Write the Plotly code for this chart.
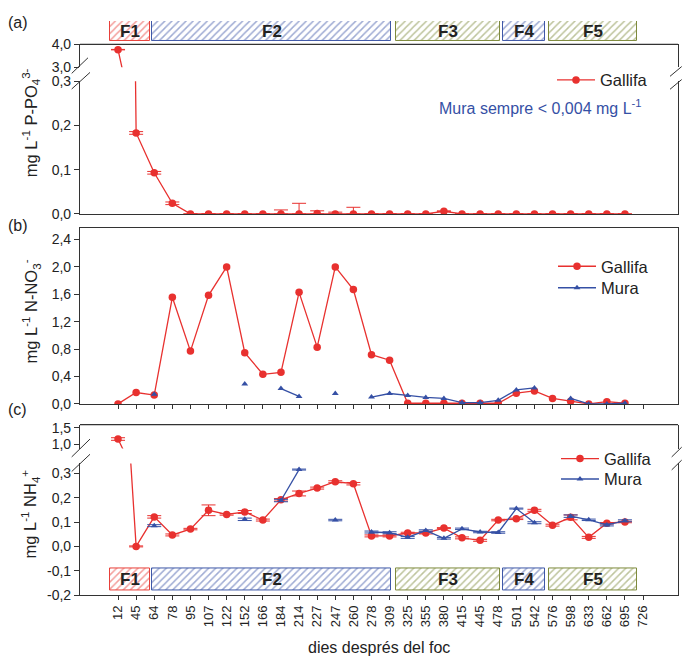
import plotly.graph_objects as go

# ---- data -------------------------------------------------------------
days = [12, 45, 64, 78, 95, 107, 122, 152, 166, 184, 214, 227, 247, 260, 278,
        309, 325, 355, 380, 415, 445, 478, 501, 542, 576, 598, 633, 662, 695, 726]
day_labels = [str(d) for d in days]

# (a) P-PO4 (mg/L), Gallifa
po4_gallifa = [3.77, 0.183, 0.093, 0.024, 0, 0, 0, 0, 0, 0, 0, 0.001, 0, 0, 0,
               0, 0, 0, 0.006, 0, 0, 0, 0, 0, 0, 0, 0, 0, 0, None]
po4_gallifa_err_up = [0.01, 0.003, 0.003, 0.003, 0, 0, 0, 0, 0, 0.009, 0.024, 0.006,
                      0.004, 0.015, 0, 0, 0, 0, 0.001, 0, 0, 0, 0, 0, 0, 0, 0, 0, 0, None]
po4_gallifa_err_dn = [0.01, 0.003, 0.003, 0.003, 0, 0, 0, 0, 0, 0, 0, 0.001,
                      0, 0, 0, 0, 0, 0, 0.001, 0, 0, 0, 0, 0, 0, 0, 0, 0, 0, None]

# (b) N-NO3 (mg/L)
no3_gallifa = [0.0, 0.167, 0.13, 1.557, 0.771, 1.586, 2.0, 0.748, 0.433, 0.462,
               1.629, 0.829, 2.0, 1.671, 0.719, 0.638, 0.01, 0.01, 0.01, 0.01,
               0.01, 0.01, 0.157, 0.19, 0.081, 0.038, 0.0, 0.033, 0.01, None]
no3_mura = [None, None, 0.143, None, None, None, None, 0.29, None, 0.224,
            0.11, None, 0.152, None, 0.1, 0.152, 0.124, 0.095, 0.081, 0.019,
            0.019, 0.052, 0.205, 0.233, None, 0.081, 0.0, 0.0, 0.01, None]

# (c) NH4 (mg/L)
nh4_gallifa = [1.16, 0.0, 0.121, 0.047, 0.071, 0.148, 0.131, 0.141, 0.108, 0.191,
               0.217, 0.239, 0.265, 0.257, 0.043, 0.043, 0.055, 0.055, 0.075, 0.035,
               0.025, 0.108, 0.113, 0.148, 0.087, 0.119, 0.037, 0.095, 0.1, None]
nh4_gallifa_err = [0.04, 0.002, 0.005, 0.004, 0.003, 0.022, 0.003, 0.006, 0.004, 0.005,
                   0.01, 0.004, 0.004, 0.005, 0.004, 0.004, 0.003, 0.004, 0.002, 0.004,
                   0.004, 0.003, 0.003, 0.004, 0.004, 0.01, 0.004, 0.003, 0.003, None]
nh4_mura = [None, None, 0.085, None, None, None, None, 0.111, None, 0.188,
            0.315, None, 0.108, None, 0.059, 0.056, 0.037, 0.065, 0.033, 0.072,
            0.059, 0.057, 0.155, 0.097, None, 0.124, 0.109, 0.088, 0.105, None]
nh4_mura_err = [None, None, 0.004, None, None, None, None, 0.005, None, 0.005,
                0.002, None, 0.003, None, 0.004, 0.004, 0.004, 0.003, 0.003, 0.003,
                0.003, 0.003, 0.002, 0.004, None, 0.005, 0.003, 0.004, 0.004, None]

# post-fire phases, in category-index units
phase_names = ["F1", "F2", "F3", "F4", "F5"]
phase_start = [-0.47, 1.90, 15.35, 21.27, 23.83]
phase_end = [1.77, 15.08, 21.10, 23.60, 28.67]
phase_colors = ["#e8403a", "#3f58a8", "#7e8a3c", "#3f58a8", "#7e8a3c"]

# tick labels
po4_low_ticks = [0.0, 0.1, 0.2, 0.3]
po4_low_text = ["0,0", "0,1", "0,2", "0,3"]
po4_high_ticks = [3.0, 4.0]
po4_high_text = ["3,0", "4,0"]
no3_ticks = [0.0, 0.4, 0.8, 1.2, 1.6, 2.0, 2.4]
no3_text = ["0,0", "0,4", "0,8", "1,2", "1,6", "2,0", "2,4"]
nh4_low_ticks = [-0.2, -0.1, 0.0, 0.1, 0.2, 0.3]
nh4_low_text = ["-0,2", "-0,1", "0,0", "0,1", "0,2", "0,3"]
nh4_high_ticks = [1.0, 1.5]
nh4_high_text = ["1,0", "1,5"]

# ---- styling ----------------------------------------------------------
W, H = 682, 664
FONT = "Liberation Sans, Arial, sans-serif"
RED = "#e8312f"
BLUE = "#3550a5"
AX = "#333333"
TXT = "#222222"

def fx(px):
    return px / W

def fy(py):
    return 1 - py / H

idx = list(range(len(days)))
X_DOM = [fx(80), fx(678)]
X_RANGE = [-2.1, 30.93]

fig = go.Figure()


def err(up, dn=None, color=RED):
    d = dict(type="data", array=up, color=color, thickness=1, width=7, visible=True)
    d["arrayminus"] = dn if dn is not None else up
    return d


def gallifa(y, xa, ya, error=None, legend=None):
    return go.Scatter(
        x=idx, y=y, xaxis=xa, yaxis=ya, mode="lines+markers", name="Gallifa",
        line=dict(color=RED, width=1.3),
        marker=dict(symbol="circle", size=7.5, color=RED),
        error_y=error, showlegend=legend is not None, legend=legend or "legend",
    )


def mura(y, xa, ya, error=None, legend=None):
    return go.Scatter(
        x=idx, y=y, xaxis=xa, yaxis=ya, mode="lines+markers", name="Mura",
        line=dict(color=BLUE, width=1.3),
        marker=dict(symbol="triangle-up", size=6, color=BLUE),
        error_y=error, showlegend=legend is not None, legend=legend or "legend",
    )


def phase_bars(xa, ya, base, height):
    for name, s, e, c in zip(phase_names, phase_start, phase_end, phase_colors):
        fig.add_trace(go.Bar(
            x=[(s + e) / 2], y=[height], base=[base], width=[e - s],
            xaxis=xa, yaxis=ya, showlegend=False, hoverinfo="skip",
            marker=dict(color="white", line=dict(color=c, width=1),
                        pattern=dict(shape="/", fgcolor=c, bgcolor="white",
                                     size=5, solidity=0.3)),
        ))
        fig.add_annotation(x=(s + e) / 2, y=base + height / 2, xref=xa, yref=ya,
                           text="<b>%s</b>" % name, showarrow=False,
                           font=dict(family=FONT, size=17, color=TXT))


# phase strips
phase_bars("x", "y6", 0, 1)
phase_bars("x3", "y4", -0.179, 0.087)

# (a)
fig.add_trace(gallifa(po4_gallifa, "x", "y", err(po4_gallifa_err_up, po4_gallifa_err_dn), legend="legend"))
fig.add_trace(gallifa(po4_gallifa, "x", "y2", err(po4_gallifa_err_up, po4_gallifa_err_dn)))

# (b)
fig.add_trace(gallifa(no3_gallifa, "x2", "y3", legend="legend2"))
fig.add_trace(mura(no3_mura, "x2", "y3", legend="legend4"))

# (c)
fig.add_trace(gallifa(nh4_gallifa, "x3", "y4", err(nh4_gallifa_err), legend="legend3"))
fig.add_trace(gallifa(nh4_gallifa, "x3", "y5", err(nh4_gallifa_err)))
fig.add_trace(mura(nh4_mura, "x3", "y4", err(nh4_mura_err, color=BLUE), legend="legend5"))
fig.add_trace(mura(nh4_mura, "x3", "y5", err(nh4_mura_err, color=BLUE)))

# ---- axes -------------------------------------------------------------
tickfont = dict(family=FONT, size=14, color=TXT)


def xax(anchor, ticks="", labels=False):
    d = dict(domain=X_DOM, range=X_RANGE, anchor=anchor, showgrid=False, zeroline=False,
             showline=True, linecolor=AX, linewidth=1.2, tickvals=idx,
             ticks=ticks, ticklen=4, tickcolor=AX, showticklabels=labels,
             fixedrange=True)
    if labels:
        d.update(ticktext=day_labels, tickangle=-90,
                 tickfont=dict(family=FONT, size=13, color=TXT))
    return d


def yax(dom, rng, tv, tt, anchor):
    return dict(domain=[fy(dom[1]), fy(dom[0])], range=rng, anchor=anchor,
                showgrid=False, zeroline=False, showline=True, mirror=True,
                linecolor=AX, linewidth=1.2, ticks="outside", ticklen=5,
                tickcolor=AX, tickvals=tv, ticktext=tt, tickfont=tickfont,
                fixedrange=True)


fig.update_layout(
    xaxis=xax("y"),
    xaxis2=dict(xax("y3", ticks="outside"), mirror=True),
    xaxis3=xax("y4", ticks="outside", labels=True),
    yaxis=yax((75, 211), [0, 0.3], po4_low_ticks, po4_low_text, "x"),
    yaxis2=yax((37.3, 60.7), [3.0, 4.0], po4_high_ticks, po4_high_text, "x"),
    yaxis3=yax((225.7, 405.7), [0, 2.565], no3_ticks, no3_text, "x2"),
    yaxis4=yax((466.7, 601.7), [-0.2, 0.34], nh4_low_ticks, nh4_low_text, "x3"),
    yaxis5=yax((427, 451.5), [0.865, 1.6], nh4_high_ticks, nh4_high_text, "x3"),
    yaxis6=dict(domain=[fy(34.3), fy(13.3)], range=[0, 1], anchor="x", visible=False,
                fixedrange=True),
)

# ---- legends (one entry each, so every row sits where it should) -------
leg_common = dict(xanchor="left", yanchor="top", bgcolor="rgba(0,0,0,0)",
                  borderwidth=0, itemwidth=38,
                  font=dict(family=FONT, size=16.5, color=TXT))
fig.update_layout(
    legend=dict(leg_common, x=fx(552), y=fy(56)),
    legend2=dict(leg_common, x=fx(553), y=fy(247)),
    legend4=dict(leg_common, x=fx(553), y=fy(269)),
    legend3=dict(leg_common, x=fx(556), y=fy(444)),
    legend5=dict(leg_common, x=fx(556), y=fy(465)),
)

# ---- frame lines, axis breaks and texts -------------------------------
shapes = [
    dict(type="line", xref="x domain", yref="y2 domain", x0=0, x1=1, y0=1, y1=1,
         line=dict(color=AX, width=1.2)),
    dict(type="line", xref="x3 domain", yref="y5 domain", x0=0, x1=1, y0=1, y1=1,
         line=dict(color=AX, width=1.2)),
]
break_marks = [
    # (a) left / right
    ((71.7, 67), (88, 51)), ((71.7, 83), (90, 66)),
    ((670, 70), (681.7, 60)), ((670, 83.3), (681.7, 73.3)),
    # (c) left / right
    ((71.7, 460), (90, 441.7)), ((71.7, 475), (90, 457.3)),
    ((671.7, 460), (681.7, 450)), ((671.7, 473.3), (681.7, 463.3)),
]
for (x0, y0), (x1, y1) in break_marks:
    shapes.append(dict(type="line", xref="paper", yref="paper",
                       x0=fx(x0), y0=fy(y0), x1=fx(x1), y1=fy(y1),
                       line=dict(color=AX, width=1)))
fig.update_layout(shapes=shapes)

for text, y in (("(a)", 15), ("(b)", 223), ("(c)", 411)):
    fig.add_annotation(text=text, x=fx(6), y=fy(y), xref="paper", yref="paper",
                       xanchor="left", yanchor="middle", showarrow=False,
                       font=dict(family=FONT, size=16, color=TXT))

ytitles = [
    ("mg L<sup>-1</sup> P-PO<sub>4</sub><sup>3-</sup>", 118),
    ("mg L<sup>-1</sup> N-NO<sub>3</sub><sup>-</sup>", 311),
    ("mg L<sup>-1</sup> NH<sub>4</sub><sup>+</sup>", 519),
]
for text, yc in ytitles:
    fig.add_annotation(text=text, x=fx(31), y=fy(yc), xref="paper", yref="paper",
                       xanchor="center", yanchor="middle", textangle=-90,
                       showarrow=False, font=dict(family=FONT, size=16.5, color=TXT))

fig.add_annotation(text="Mura sempre &lt; 0,004 mg L<sup>-1</sup>", x=fx(437), y=fy(101.7),
                   xref="paper", yref="paper", xanchor="left", yanchor="middle",
                   showarrow=False, font=dict(family=FONT, size=16, color=BLUE))
fig.add_annotation(text="dies després del foc", x=fx(379), y=fy(655),
                   xref="paper", yref="paper", xanchor="center", yanchor="middle",
                   showarrow=False, font=dict(family=FONT, size=16, color=TXT))

fig.update_layout(
    width=W, height=H, margin=dict(l=0, r=0, t=0, b=0),
    paper_bgcolor="white", plot_bgcolor="white",
    barmode="overlay", bargap=0,
    font=dict(family=FONT, color=TXT),
)

fig.write_html("out.html", config={"displayModeBar": False})
